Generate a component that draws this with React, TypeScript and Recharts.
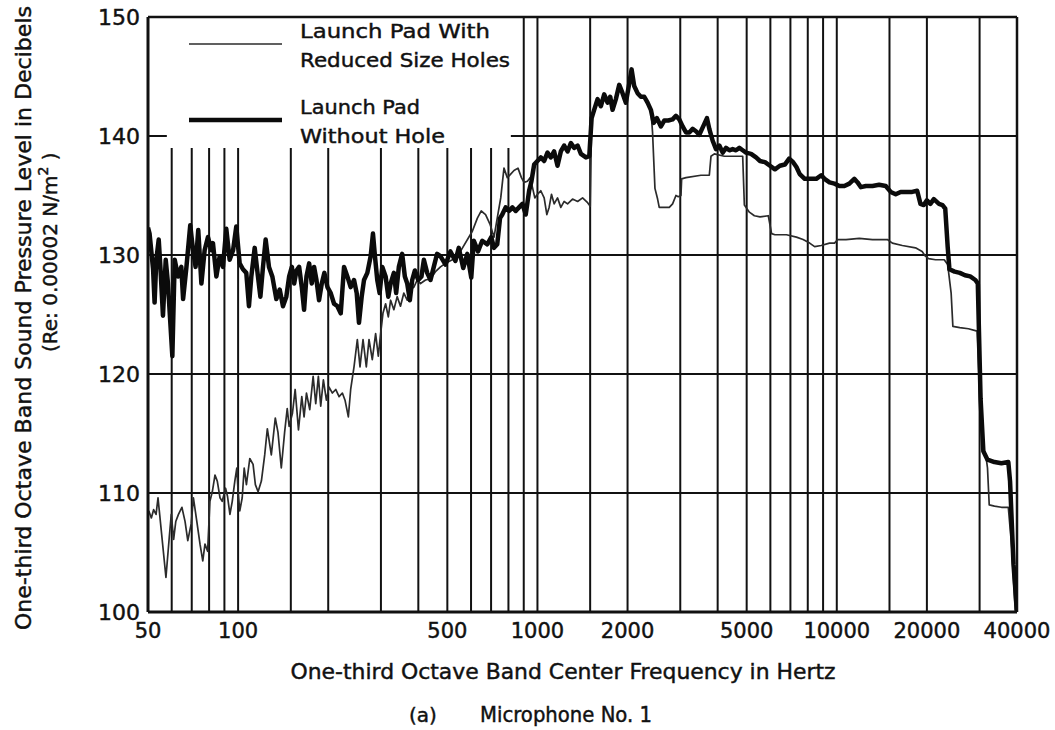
import React from 'react'
import { LineChart, Line, XAxis, YAxis, ReferenceLine, Legend } from 'recharts'

// one-third octave band levels, [Hz, dB]
const withoutHole: [number, number][] = [
  [50, 132.3], [50.6, 131.8], [52, 128.8], [52.6, 126], [53.3, 129.6], [54.3, 131.3], [55, 129], [56.1, 124.9],
  [57.3, 129.6], [58.3, 127.6], [60.3, 121.5], [61.4, 129.6], [63, 128.2], [64.6, 129], [65.5, 126.3], [67.2, 129],
  [69.2, 132.5], [70.7, 130.4], [72.1, 129], [73.6, 132.1], [75.4, 127.6], [77.3, 130.4], [79.3, 131.5], [81.4, 130.4],
  [82.4, 131], [84.6, 128.2], [86.8, 129.9], [89, 129], [91.3, 132.2], [93.7, 129.6], [96.2, 130.4], [98.6, 132.4],
  [101.2, 129.3], [103.8, 128.8], [106.5, 128.5], [108.7, 125.7], [110.7, 128.2], [113.6, 130.6], [116.5, 128.2],
  [118.7, 126.5], [121.1, 129], [123.6, 131.3], [126.8, 129], [130.1, 128.2], [134.2, 126.3], [137.7, 127.1],
  [141.2, 125.7], [144.9, 126.5], [148.1, 128.2], [151.2, 129], [153.9, 127.6], [156.7, 128.7], [159.9, 129],
  [163.2, 127.3], [166.1, 125.4], [169.2, 128.2], [172.7, 129.3], [176.2, 127.6], [179.4, 129], [182.7, 127.9],
  [186.4, 126.2], [190.3, 127.6], [194.2, 128.5], [198.8, 127.3], [203.9, 126.8], [209.2, 125.9], [214.6, 125.7],
  [220.2, 125.1], [225.9, 129], [231.7, 128.2], [237.7, 127.3], [243.9, 127.9], [249, 126.8], [253.4, 124.3],
  [258.7, 126.5], [263.4, 127.9], [270.2, 128.5], [277.2, 129.9], [282.2, 131.8], [286.5, 129.9], [291.7, 127.9],
  [297, 126.8], [303.2, 129], [311, 128.2], [317.5, 126.5], [323.2, 127.6], [331.4, 128.5], [337.3, 126.8],
  [344.3, 129], [353.2, 130.1], [360.6, 128.2], [367.3, 127.6], [374.7, 126.2], [381.6, 127.9], [389.6, 128.7],
  [399.6, 127.9], [409.8, 128.2], [417.4, 129.6], [428.2, 128.5], [439.3, 127.9], [450.5, 129], [462.1, 130.1],
  [474, 129.9], [493, 129.2], [512, 130.3], [532, 129.5], [546, 130.6], [565, 128.9], [583, 130.1], [601, 128.1],
  [613, 131.2], [633, 130.3], [654, 131.2], [680, 130.9], [701, 131.5], [716, 130.6], [734, 130.9], [750, 133.1],
  [763, 133.4], [783, 134], [804, 133.7], [825, 134], [846, 133.7], [868, 134], [891, 134.3], [914, 133.4],
  [938, 135.4], [955, 136.2], [975, 137.6], [1000, 137.9], [1026, 138.2], [1053, 137.9], [1080, 138.6], [1108, 138.2],
  [1137, 138.7], [1167, 137.5], [1197, 138.7], [1228, 139.2], [1261, 138.7], [1293, 139.4], [1327, 139], [1362, 139.2],
  [1397, 138.5], [1452, 138.2], [1490, 138.3], [1517, 141.5], [1547, 142.2], [1588, 143.1], [1629, 142.5],
  [1671, 143.5], [1715, 142.8], [1750, 143.3], [1782, 142.2], [1828, 143.1], [1876, 144.3], [1924, 143.6],
  [1974, 142.8], [2026, 144.4], [2063, 145.6], [2105, 144.2], [2160, 143.6], [2216, 143.3], [2274, 143.3],
  [2333, 142.8], [2393, 142.2], [2444, 141.1], [2507, 141.5], [2585, 140.8], [2652, 141.3], [2735, 141.3],
  [2828, 141.4], [2902, 141.7], [2978, 141.4], [3055, 140.8], [3135, 140.3], [3216, 140.3], [3300, 140.6],
  [3385, 140.4], [3473, 140.1], [3563, 140.7], [3684, 141.5], [3751, 140.6], [3849, 139.6], [3949, 138.9],
  [4052, 139.2], [4157, 138.6], [4266, 139], [4376, 138.8], [4490, 138.9], [4606, 138.8], [4726, 139], [4849, 138.8],
  [4976, 138.6], [5171, 138.5], [5374, 138.2], [5540, 137.9], [5756, 137.8], [5981, 137.5], [6214, 137.2],
  [6455, 137.5], [6706, 137.6], [6933, 138.1], [7147, 137.8], [7332, 137.4], [7521, 136.8], [7814, 136.4],
  [8117, 136.4], [8541, 136.4], [8872, 136.7], [9101, 136.4], [9456, 136.1], [9824, 136], [10205, 135.8],
  [10603, 135.8], [11015, 136], [11443, 136.4], [11737, 136.1], [12042, 135.7], [12509, 135.8], [13162, 135.8],
  [13849, 135.9], [14573, 135.8], [15141, 135.3], [15731, 135.1], [16344, 135.3], [16976, 135.3], [17862, 135.3],
  [18557, 135.4], [19037, 134.3], [19526, 134.2], [20000, 134.6], [20540, 134.3], [21094, 134.7], [21954, 134.3],
  [22550, 134.2], [23032, 133.9], [23466, 130.7], [23782, 128.8], [24754, 128.6], [25764, 128.5], [26812, 128.3],
  [27904, 128.2], [29042, 127.9], [29588, 127.6], [30228, 117.9], [30880, 113.5], [31878, 112.8], [33628, 112.6],
  [35474, 112.5], [37414, 112.6], [37916, 111], [38942, 104], [40000, 100],
]

const reducedHoles: [number, number][] = [
  [50.3, 108.5], [51.3, 107.9], [52.2, 108.6], [53.2, 108.2], [54, 109.6], [55.4, 106.8], [57.4, 102.9], [58.9, 106.3],
  [59.8, 108.2], [60.9, 106.1], [61.9, 107.6], [63.2, 108.2], [64.9, 108.8], [66.5, 107.6], [67.9, 106], [69.7, 107.4],
  [70.9, 109.6], [72.8, 107.6], [74.6, 105.7], [76.2, 104.3], [77.5, 105.7], [79.1, 105.1], [80.5, 109.3], [82, 110.1],
  [83.7, 111.5], [85.2, 111], [87, 109.6], [88.5, 109.3], [90.8, 110.4], [92.2, 109.7], [93.9, 108.2], [95.6, 109.3],
  [97.5, 111], [99, 112.1], [100, 110.1], [101.3, 108.5], [103.2, 109.6], [104.8, 112.1], [106.6, 110.7],
  [109.4, 112.9], [112.2, 112.4], [114.2, 110.7], [116.6, 110.1], [119.6, 111], [122.7, 113.2], [125.2, 115.4],
  [129.1, 113.2], [133.1, 116.3], [135.9, 115.1], [139.4, 112.1], [143, 115.1], [145.9, 117.1], [148.1, 115.6],
  [151.9, 116.7], [155.1, 118.7], [159.1, 115.3], [163.2, 118.1], [166.1, 116.4], [169.2, 118.4], [173.5, 117],
  [178.1, 119.8], [181.7, 117.5], [185.4, 119.8], [188.8, 117.3], [192.7, 119.5], [197.2, 117.8], [201.3, 118.9],
  [206.5, 118.4], [211.9, 118.7], [217.4, 118.1], [223, 118.4], [227.6, 117.8], [233.5, 116.4], [237.7, 118.7],
  [243.9, 120.6], [250.2, 122.9], [255.4, 120.6], [261.4, 122.9], [268.1, 120.6], [273.7, 122.9], [280.7, 121.2],
  [288, 123.4], [294, 121.5], [299.3, 123.4], [304.7, 125.1], [311, 125.9], [317.5, 124.8], [323.2, 126.2],
  [331.4, 125.4], [339.9, 126.5], [348.7, 125.7], [357.8, 126.8], [367.3, 126.2], [376.8, 127.1], [386.6, 127.3],
  [396.6, 127.9], [406.8, 127.6], [422.8, 127.9], [439.3, 128], [456.3, 128.6], [474.3, 129], [493.2, 129.3],
  [519.5, 129.6], [539.1, 129.9], [553, 130.3], [606, 132], [630, 133.1], [649, 133.7], [671, 133.4], [694, 132.6],
  [716, 131.5], [734, 133.1], [754, 134.8], [773, 137.3], [793, 136.5], [814, 136.8], [835, 137.1], [861, 137.3],
  [884, 136.5], [902, 136.1], [926, 136.2], [945, 136.5], [962, 135.7], [980, 134.8], [1000, 135.1], [1026, 135.4],
  [1053, 134.8], [1075, 133.4], [1094, 134], [1114, 135.1], [1137, 134.3], [1167, 134.8], [1197, 134], [1228, 134.5],
  [1261, 134.3], [1310, 134.7], [1362, 134.5], [1415, 134.8], [1471, 134.4], [1501, 134.1], [1517, 141.5],
  [1547, 142.2], [1588, 143.1], [1629, 142.5], [1671, 143.5], [1715, 142.8], [1750, 143.3], [1782, 142.2],
  [1828, 143.1], [1876, 144.3], [1924, 143.6], [1974, 142.8], [2026, 144.4], [2063, 145.6], [2105, 144.2],
  [2160, 143.6], [2216, 143.3], [2274, 143.3], [2333, 142.8], [2393, 142.2], [2424, 140.3], [2469, 135.6],
  [2520, 134.7], [2552, 134], [2652, 134], [2757, 134], [2828, 134.3], [2902, 135], [2955, 134.9], [3016, 135],
  [3032, 136.4], [3135, 136.5], [3518, 136.7], [3751, 136.7], [3800, 138.3], [3899, 138.5], [4211, 138.3],
  [4666, 138.3], [4849, 138.3], [4912, 134.2], [5105, 133.6], [5305, 133.3], [5540, 133.2], [5905, 133.3],
  [6057, 131.8], [6214, 131.7], [6792, 131.7], [7332, 131.5], [7715, 131.3], [8117, 131], [8433, 130.7],
  [8872, 130.8], [9456, 131], [9824, 131], [10077, 131.3], [10738, 131.3], [11887, 131.4], [13162, 131.3],
  [14762, 131.3], [15334, 131], [16552, 130.8], [18323, 130.6], [19280, 130.3], [19775, 129.9], [20268, 129.7],
  [21378, 129.6], [22850, 129.6], [23466, 129.2], [24100, 126.8], [24424, 124], [25764, 123.9], [27534, 123.8],
  [29432, 123.6], [30068, 117.9], [30880, 113.8], [31462, 113.2], [31878, 112.1], [32306, 109], [33628, 108.9],
  [35474, 108.8], [37414, 108.8], [38426, 105.4], [39462, 100.1],
]

const freqTicks = [50, 100, 500, 1000, 2000, 5000, 10000, 20000, 40000]
const dbTicks = [100, 110, 120, 130, 140, 150]
// log paper rulings; the ones under the legend stop short of 140 dB
const gridFreqs = [60, 70, 80, 90, 100, 150, 200, 300, 400, 500, 600, 700, 800, 900, 1000, 1500, 2000, 3000,
  4000, 5000, 6000, 7000, 8000, 9000, 10000, 15000, 20000, 30000]
const gridDb = [110, 120, 130]
const legendGap = { from: 57.8, to: 815, floor: 139 }

const series = [
  { name: 'Launch Pad With|Reduced Size Holes', rows: reducedHoles, stroke: '#2b2b2b', width: 1.7 },
  { name: 'Launch Pad|Without Hole', rows: withoutHole, stroke: '#0b0b0b', width: 4.5 },
]

const FONT = '"DejaVu Sans", sans-serif'
const INK = '#111'
const heavy = { stroke: INK, strokeWidth: 0.45 }

const toPoints = (rows: [number, number][]) => rows.map(([f, db]) => ({ f, db }))

function LegendBox() {
  return (
    <svg width={370} height={150} style={{ display: 'block' }}>
      {series.map((s, i) => {
        const [l1, l2] = s.name.split('|')
        const top = i * 76
        return (
          <g key={s.name} fontFamily={FONT} fontSize={20} fill={INK} {...heavy}>
            <line x1={19} x2={112} y1={top + 36} y2={top + 36} stroke={s.stroke} strokeWidth={s.width} />
            <text x={130} y={top + 30} textLength={l1.length > 12 ? 190 : 120} lengthAdjust="spacingAndGlyphs">{l1}</text>
            <text x={130} y={top + 59} textLength={l2.length > 12 ? 210 : 145} lengthAdjust="spacingAndGlyphs">{l2}</text>
          </g>
        )
      })}
    </svg>
  )
}

const yTitle = () => (
  <g fill={INK} fontFamily={FONT} {...heavy}>
    <text transform="translate(31,318) rotate(-90)" textAnchor="middle" fontSize={22}
      textLength={624} lengthAdjust="spacingAndGlyphs">
      One-third Octave Band Sound Pressure Level  in Decibels
    </text>
    <text transform="translate(57,352) rotate(-90)" textAnchor="start" fontSize={20}>
      (Re:  0.00002 N/m<tspan dy={-9} fontSize={14}>2</tspan><tspan dy={9}> )</tspan>
    </text>
  </g>
)

const xTitle = () => (
  <g fill={INK} fontFamily={FONT} {...heavy}>
    <text x={563} y={679} textAnchor="middle" fontSize={22} textLength={545} lengthAdjust="spacingAndGlyphs">
      One-third Octave Band Center Frequency in Hertz
    </text>
    <text x={409} y={722} fontSize={20}>(a)</text>
    <text x={480} y={722} fontSize={21} textLength={172} lengthAdjust="spacingAndGlyphs">Microphone No. 1</text>
  </g>
)

export default function App() {
  const rule = { stroke: INK, strokeWidth: 2 }
  return (
    <div style={{ position: 'absolute', left: 0, top: 0, width: 1055, height: 730, background: '#fff' }}>
      <LineChart width={1055} height={730} margin={{ top: 17, right: 38, left: 0, bottom: 0 }}>
        <XAxis
          dataKey="f" type="number" scale="log" domain={[50, 40000]} allowDataOverflow
          ticks={freqTicks} height={118} tickLine={false} tickSize={6} tickMargin={5}
          axisLine={{ stroke: INK, strokeWidth: 3 }}
          tick={{ fill: INK, fontSize: 21, fontFamily: FONT, ...heavy }}
          label={{ content: xTitle }}
        />
        <YAxis
          dataKey="db" type="number" domain={[100, 150]} allowDataOverflow
          ticks={dbTicks} width={148} tickLine={false} tickSize={6} tickMargin={2}
          axisLine={{ stroke: INK, strokeWidth: 3 }}
          tick={{ fill: INK, fontSize: 22, fontFamily: FONT, ...heavy }}
          label={{ content: yTitle }}
        />
        {gridFreqs.map(f => {
          const cut = f > legendGap.from && f < legendGap.to
          return (
            <ReferenceLine key={'v' + f} {...rule}
              segment={[{ x: f, y: 100 }, { x: f, y: cut ? legendGap.floor : 150 }]} />
          )
        })}
        {gridDb.map(d => <ReferenceLine key={'h' + d} y={d} {...rule} />)}
        <ReferenceLine segment={[{ x: 50, y: 140 }, { x: legendGap.from, y: 140 }]} {...rule} />
        <ReferenceLine segment={[{ x: legendGap.to, y: 140 }, { x: 40000, y: 140 }]} {...rule} />
        <ReferenceLine y={150} stroke={INK} strokeWidth={2.5} />
        <ReferenceLine x={40000} stroke={INK} strokeWidth={2.5} />
        {series.map(s => (
          <Line key={s.name} data={toPoints(s.rows)} dataKey="db" type="linear" stroke={s.stroke}
            strokeWidth={s.width} strokeLinejoin="round" dot={false} activeDot={false}
            isAnimationActive={false} />
        ))}
        <Legend layout="horizontal" verticalAlign="middle" align="center" width={370} height={150}
          wrapperStyle={{ left: 170, top: 8, width: 370, height: 150 }} content={LegendBox} />
      </LineChart>
    </div>
  )
}
